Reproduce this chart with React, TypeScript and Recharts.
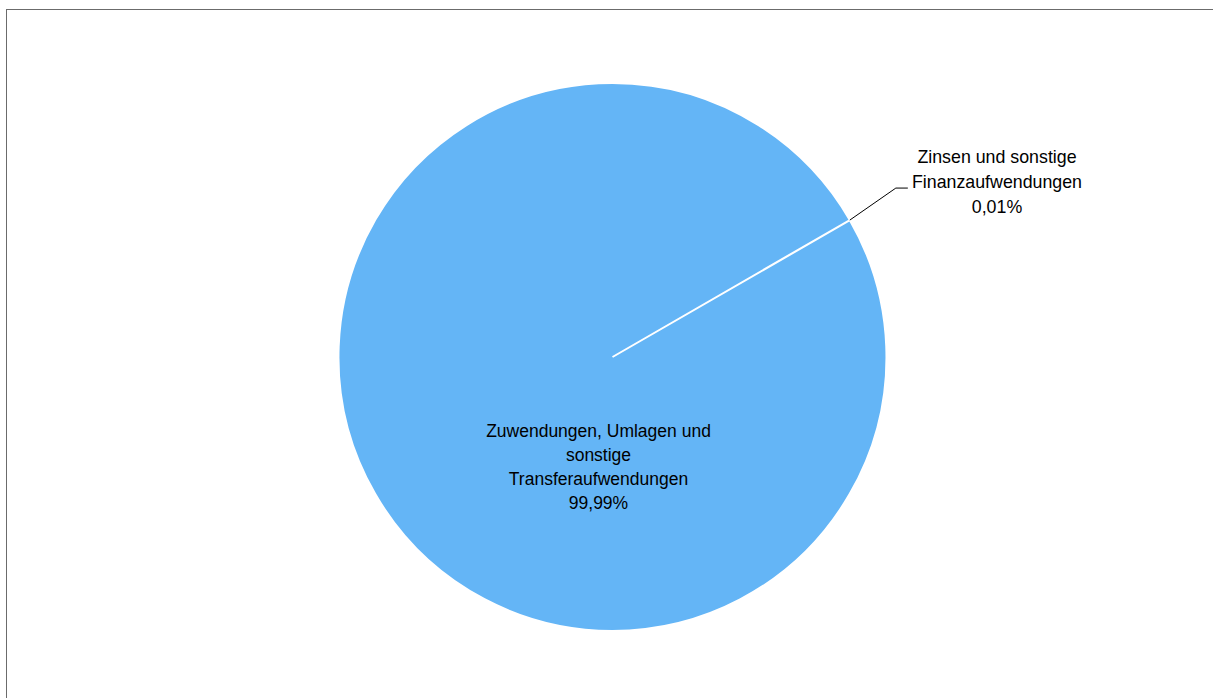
import React from 'react';
import { PieChart, Pie, Cell } from 'recharts';

const categories = [
  'Zinsen und sonstige Finanzaufwendungen',
  'Zuwendungen, Umlagen und sonstige Transferaufwendungen',
];
const shares = [0.01, 99.99];
const percentLabels = ['0,01%', '99,99%'];
const labelLines = [
  ['Zinsen und sonstige', 'Finanzaufwendungen'],
  ['Zuwendungen, Umlagen und', 'sonstige', 'Transferaufwendungen'],
];

const FILL = '#64B5F6';
const FONT = '"Liberation Sans", Arial, sans-serif';

const data = categories.map((name, i) => ({
  name,
  value: shares[i],
  pct: percentLabels[i],
  lines: labelLines[i],
}));

const RADIAN = Math.PI / 180;

const renderLabel = (props: any) => {
  const { cx, cy, midAngle, outerRadius, index } = props;
  const entry = data[index];
  const rows = [...entry.lines, entry.pct];

  if (index === 0) {
    // outside label with leader line
    const ex = cx + outerRadius * Math.cos(-midAngle * RADIAN);
    const ey = cy + outerRadius * Math.sin(-midAngle * RADIAN);
    const bx = ex + 46;
    const by = ey - 32;
    const tx = 997;
    return (
      <g>
        <polyline
          points={`${ex},${ey} ${bx},${by} ${bx + 12},${by}`}
          fill="none"
          stroke="#000"
          strokeWidth={1}
        />
        {rows.map((r, i) => (
          <text
            key={i}
            x={tx}
            y={by - 31 + i * 25}
            textAnchor="middle"
            dominantBaseline="central"
            fontSize={17.8}
            fontFamily={FONT}
            fill="#000"
          >
            {r}
          </text>
        ))}
      </g>
    );
  }

  const lx = cx - 14;
  const ly = cy + 74;
  return (
    <g>
      {rows.map((r, i) => (
        <text
          key={i}
          x={lx}
          y={ly + i * 24}
          textAnchor="middle"
          dominantBaseline="central"
          fontSize={17.5}
          fontFamily={FONT}
          fill="#000"
        >
          {r}
        </text>
      ))}
    </g>
  );
};

export default function App() {
  return (
    <div style={{ position: 'absolute', left: 0, top: 0, width: 1213, height: 698, background: '#fff', overflow: 'hidden' }}>
      <div
        style={{
          position: 'absolute',
          left: 6,
          top: 9,
          width: 1230,
          height: 720,
          border: '1px solid #6b6b6b',
        }}
      />
      <div style={{ position: 'absolute', left: 0, top: 0 }}>
        <PieChart width={1213} height={698} margin={{ top: 0, right: 0, bottom: 0, left: 0 }}>
          <Pie
            data={data}
            dataKey="value"
            nameKey="name"
            cx={612.5}
            cy={357}
            outerRadius={274}
            startAngle={30}
            endAngle={-330}
            stroke="#fff"
            strokeWidth={2}
            label={renderLabel}
            labelLine={false}
            isAnimationActive={false}
          >
            {data.map((d, i) => (
              <Cell key={i} fill={FILL} />
            ))}
          </Pie>
        </PieChart>
      </div>
    </div>
  );
}
